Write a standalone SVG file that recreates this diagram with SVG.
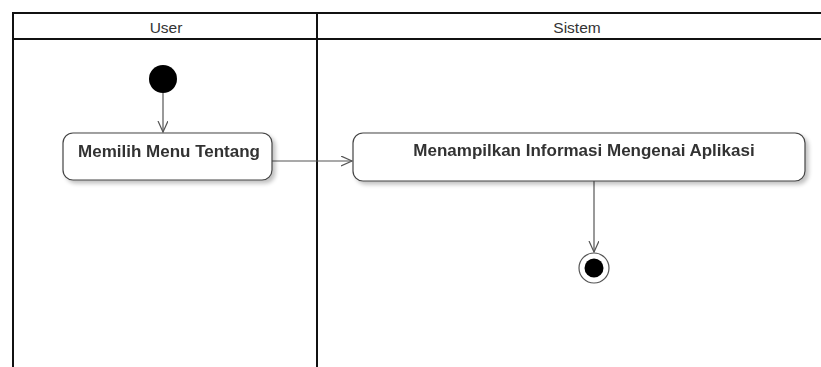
<svg xmlns="http://www.w3.org/2000/svg" width="821" height="367" viewBox="0 0 821 367">
  <style>
    .lane { fill: none; stroke: #111; stroke-width: 2; }
    .head { font-family: "Liberation Sans", Arial, sans-serif; font-size: 15.5px; fill: #333; text-anchor: middle; }
    .act { fill: #fff; stroke: #444; stroke-width: 1.2; }
    .lbl { font-family: "Liberation Sans", Arial, sans-serif; font-size: 17px; font-weight: bold; fill: #333; text-anchor: middle; }
    .flow { fill: none; stroke: #555; stroke-width: 1.2; }
  </style>
  <defs>
    <marker id="open" markerWidth="14" markerHeight="12" refX="11" refY="5" orient="auto" markerUnits="userSpaceOnUse">
      <path d="M0,0 L11,5 L0,10" fill="none" stroke="#555" stroke-width="1.2"/>
    </marker>
    <filter id="shadow" x="-10%" y="-20%" width="130%" height="160%">
      <feGaussianBlur in="SourceAlpha" stdDeviation="2"/>
      <feOffset dx="3" dy="3" result="b"/>
      <feComponentTransfer><feFuncA type="linear" slope="0.25"/></feComponentTransfer>
      <feMerge><feMergeNode/><feMergeNode in="SourceGraphic"/></feMerge>
    </filter>
  </defs>

  <rect width="821" height="367" fill="#fff"/>

  <!-- swimlanes -->
  <g id="lanes">
    <line class="lane" x1="13" y1="13" x2="821" y2="13"/>
    <line class="lane" x1="13" y1="39" x2="821" y2="39"/>
    <line class="lane" x1="13" y1="12" x2="13" y2="367"/>
    <line class="lane" x1="317" y1="12" x2="317" y2="367"/>
    <text class="head" x="166" y="33">User</text>
    <text class="head" x="577" y="33">Sistem</text>
  </g>

  <!-- connectors -->
  <g id="connectors">
    <line class="flow" x1="163" y1="93" x2="163" y2="132" marker-end="url(#open)"/>
    <line class="flow" x1="272" y1="161" x2="352" y2="161" marker-end="url(#open)"/>
    <line class="flow" x1="594" y1="181" x2="594" y2="252" marker-end="url(#open)"/>
  </g>

  <g id="start">
    <circle cx="163" cy="79" r="14" fill="#000"/>
  </g>

  <g id="memilih-menu" filter="url(#shadow)">
    <rect class="act" x="63" y="133" width="209" height="47" rx="10"/>
    <text class="lbl" x="169" y="157">Memilih Menu Tentang</text>
  </g>

  <g id="menampilkan-info" filter="url(#shadow)">
    <rect class="act" x="353" y="133" width="452" height="48" rx="10"/>
    <text class="lbl" x="584" y="156">Menampilkan Informasi Mengenai Aplikasi</text>
  </g>

  <g id="end">
    <circle cx="594" cy="268" r="15" fill="#fff" stroke="#555" stroke-width="1.2"/>
    <circle cx="594" cy="268" r="9.5" fill="#000"/>
  </g>
</svg>
